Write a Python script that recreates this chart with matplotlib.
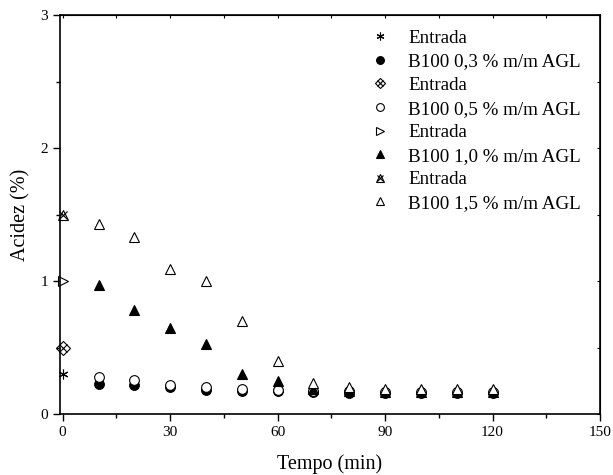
import matplotlib
matplotlib.use("Agg")
import matplotlib.pyplot as plt
from matplotlib.ticker import MultipleLocator, NullFormatter

plt.rcParams['font.family'] = ['Liberation Serif', 'DejaVu Serif']

t = [10, 20, 30, 40, 50, 60, 70, 80, 90, 100, 110, 120]
entrada_03 = 0.30
entrada_05 = 0.50
entrada_10 = 1.00
entrada_15 = 1.50
b100_03 = [0.225, 0.22, 0.20, 0.18, 0.17, 0.17, 0.165, 0.155, 0.155, 0.155, 0.155, 0.155]
b100_05 = [0.28, 0.255, 0.22, 0.20, 0.19, 0.18, 0.175, 0.17, 0.165, 0.165, 0.165, 0.165]
b100_10 = [0.97, 0.78, 0.65, 0.53, 0.30, 0.25, 0.19, 0.175, 0.165, 0.165, 0.165, 0.165]
b100_15 = [1.43, 1.33, 1.09, 1.00, 0.70, 0.40, 0.235, 0.20, 0.19, 0.19, 0.19, 0.19]
labels = ["Entrada", "B100 0,3 % m/m AGL", "Entrada", "B100 0,5 % m/m AGL",
          "Entrada", "B100 1,0 % m/m AGL", "Entrada", "B100 1,5 % m/m AGL"]

fig = plt.figure(figsize=(6.13, 4.75), dpi=100)
ax = fig.add_axes([60 / 613, 1 - 414 / 475, 540 / 613, 399 / 475])

ms = 7
kw = dict(linestyle='none', color='black', markeredgewidth=0.8, clip_on=False)

h1 = ax.plot([0], [entrada_03], marker=(6, 2, 0), markersize=ms, **kw)[0]
h2 = ax.plot(t, b100_03, marker='o', markerfacecolor='black', markersize=ms, **kw)[0]
h3a = ax.plot([0], [entrada_05], marker='D', markerfacecolor='none', markersize=ms, **kw)[0]
h3b = ax.plot([0], [entrada_05], marker='x', markersize=ms - 1.5, **kw)[0]
h4 = ax.plot(t, b100_05, marker='o', markerfacecolor='white', markersize=ms, **kw)[0]
h5 = ax.plot([0], [entrada_10], marker='>', markerfacecolor='none', markersize=ms, **kw)[0]
h6 = ax.plot(t, b100_10, marker='^', markerfacecolor='black', markersize=ms, **kw)[0]
h7a = ax.plot([0], [entrada_15], marker='^', markerfacecolor='none', markersize=ms, **kw)[0]
h7b = ax.plot([0], [entrada_15], marker='x', markersize=ms - 1.5, **kw)[0]
h8 = ax.plot(t, b100_15, marker='^', markerfacecolor='white', markersize=ms, **kw)[0]

ax.set_xlim(-0.75, 150)
ax.set_ylim(0, 3)
ax.xaxis.set_major_locator(MultipleLocator(30))
ax.xaxis.set_minor_locator(MultipleLocator(15))
ax.yaxis.set_major_locator(MultipleLocator(1))
ax.yaxis.set_minor_locator(MultipleLocator(0.5))
ax.tick_params(which='both', direction='out', labelsize=11, width=1)
ax.tick_params(which='major', length=5)
ax.tick_params(which='minor', length=3)
for s in ax.spines.values():
    s.set_linewidth(1.2)

sx = ax.secondary_xaxis('top')
sx.xaxis.set_major_locator(MultipleLocator(15))
sx.xaxis.set_major_formatter(NullFormatter())
sx.tick_params(direction='in', length=2, width=0.8)
sy = ax.secondary_yaxis('right')
sy.yaxis.set_major_locator(MultipleLocator(0.5))
sy.yaxis.set_major_formatter(NullFormatter())
sy.tick_params(direction='in', length=2, width=0.8)

ax.set_xlabel("Tempo (min)", fontsize=14.5, labelpad=11)
ax.set_ylabel("Acidez (%)", fontsize=14.5, labelpad=7)

handles = [h1, h2, (h3a, h3b), h4, h5, h6, (h7a, h7b), h8]
leg = ax.legend(handles, labels, loc='upper left', bbox_to_anchor=(370 / 613, 1 - 29.5 / 475),
                bbox_transform=fig.transFigure, frameon=False, borderpad=0, borderaxespad=0,
                fontsize=13.7, handlelength=1.0, handletextpad=1.0, labelspacing=0.33,
                markerscale=0.8)

fig.savefig("out.png", dpi=100)
